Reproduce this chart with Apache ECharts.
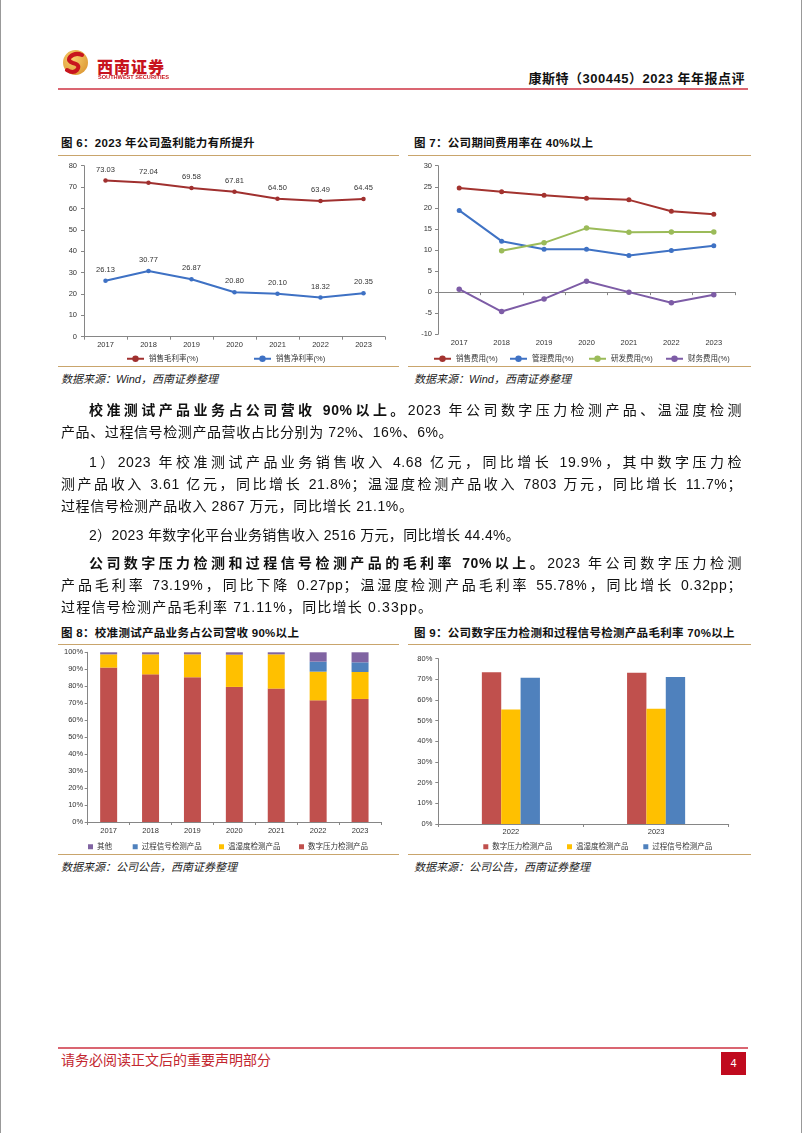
<!DOCTYPE html>
<html lang="zh-CN"><head><meta charset="utf-8">
<script src="https://cdn.jsdelivr.net/npm/echarts@6/dist/echarts.min.js"></script>
<style>
html,body{margin:0;padding:0;background:#fff;}
body{width:800px;height:1133px;position:relative;overflow:hidden;border-left:1px solid #999;border-right:1px solid #999;font-family:"Liberation Sans",Arial,"Noto Sans CJK SC",sans-serif;color:#111;}
.a{position:absolute;white-space:nowrap;}
.hr{position:absolute;height:2px;background:#DA6571;}
.tl{position:absolute;height:1px;background:#C9A56C;}
.ttl{position:absolute;font-size:11.5px;font-weight:bold;line-height:14px;white-space:nowrap;letter-spacing:0.3px;}
.src{position:absolute;font-size:11px;font-style:italic;line-height:14px;white-space:nowrap;color:#222;}
.ln{position:absolute;font-size:14px;line-height:20px;height:20px;white-space:nowrap;letter-spacing:0.6px;filter:grayscale(1);}
.full{text-align:justify;text-align-last:justify;}
.chart{position:absolute;}
</style></head>
<body>
<!-- header -->
<svg class="a" style="left:61px;top:49px" width="27" height="27" viewBox="0 0 27 27">
  <defs><radialGradient id="gg" cx="40%" cy="35%" r="70%"><stop offset="0" stop-color="#F7CF6E"/><stop offset="1" stop-color="#DE9A36"/></radialGradient></defs>
  <circle cx="13.5" cy="13.5" r="12.5" fill="url(#gg)"/>
  <path d="M20 6 Q13 3 8 8 Q5 12 11 14 Q19 16 15 21 Q11 25 5 21" fill="none" stroke="#C8151E" stroke-width="4" stroke-linecap="round"/>
</svg>
<div class="a" style="left:96px;top:56px;font-size:16px;line-height:20px;font-weight:900;color:#C8141E;letter-spacing:1px;font-family:'Noto Sans CJK SC',sans-serif;">西南证券</div>
<div class="a" style="left:97px;top:75px;font-size:10px;line-height:10px;color:#C8141E;transform:scale(0.56);transform-origin:0 0;font-weight:bold;">SOUTHWEST SECURITIES</div>
<div class="a" style="right:56px;top:71px;font-size:13px;line-height:16px;font-weight:bold;letter-spacing:0.5px;">康斯特（300445）2023 年年报点评</div>
<div class="hr" style="left:57px;top:88px;width:690px;"></div>

<!-- figure titles -->
<div class="ttl" style="left:60px;top:136px;">图 6：2023 年公司盈利能力有所提升</div>
<div class="tl" style="left:57px;top:155px;width:341px;"></div>
<div class="tl" style="left:57px;top:366px;width:341px;"></div>
<div class="src" style="left:60px;top:372px;">数据来源：Wind，西南证券整理</div>

<div class="ttl" style="left:413px;top:136px;">图 7：公司期间费用率在 40%以上</div>
<div class="tl" style="left:407px;top:155px;width:343px;"></div>
<div class="tl" style="left:407px;top:366px;width:343px;"></div>
<div class="src" style="left:413px;top:372px;">数据来源：Wind，西南证券整理</div>

<div class="ttl" style="left:60px;top:626px;">图 8：校准测试产品业务占公司营收 90%以上</div>
<div class="tl" style="left:57px;top:644px;width:341px;"></div>
<div class="tl" style="left:57px;top:854px;width:341px;"></div>
<div class="src" style="left:60px;top:860px;">数据来源：公司公告，西南证券整理</div>

<div class="ttl" style="left:413px;top:626px;">图 9：公司数字压力检测和过程信号检测产品毛利率 70%以上</div>
<div class="tl" style="left:407px;top:644px;width:343px;"></div>
<div class="tl" style="left:407px;top:854px;width:343px;"></div>
<div class="src" style="left:413px;top:860px;">数据来源：公司公告，西南证券整理</div>

<!-- body text -->
<div class="ln full" style="left:88px;top:400px;width:653px;"><b>校准测试产品业务占公司营收 90%以上。</b>2023 年公司数字压力检测产品、温湿度检测</div>
<div class="ln" style="left:60px;top:422px;">产品、过程信号检测产品营收占比分别为 72%、16%、6%。</div>
<div class="ln full" style="left:88px;top:452px;width:653px;">1）2023 年校准测试产品业务销售收入 4.68 亿元，同比增长 19.9%，其中数字压力检</div>
<div class="ln full" style="left:60px;top:474px;width:681px;">测产品收入 3.61 亿元，同比增长 21.8%；温湿度检测产品收入 7803 万元，同比增长 11.7%；</div>
<div class="ln" style="left:60px;top:496px;">过程信号检测产品收入 2867 万元，同比增长 21.1%。</div>
<div class="ln" style="left:88px;top:525px;letter-spacing:0.3px;">2）2023 年数字化平台业务销售收入 2516 万元，同比增长 44.4%。</div>
<div class="ln full" style="left:88px;top:553px;width:653px;"><b>公司数字压力检测和过程信号检测产品的毛利率 70%以上。</b>2023 年公司数字压力检测</div>
<div class="ln full" style="left:60px;top:575px;width:681px;">产品毛利率 73.19%，同比下降 0.27pp；温湿度检测产品毛利率 55.78%，同比增长 0.32pp；</div>
<div class="ln" style="left:60px;top:597px;letter-spacing:1.2px;">过程信号检测产品毛利率 71.11%，同比增长 0.33pp。</div>

<!-- charts -->
<div id="c6" class="chart" style="left:55px;top:156px;width:345px;height:216px;"></div>
<div id="c7" class="chart" style="left:405px;top:156px;width:347px;height:216px;"></div>
<div id="c8" class="chart" style="left:55px;top:645px;width:345px;height:212px;"></div>
<div id="c9" class="chart" style="left:405px;top:645px;width:347px;height:212px;"></div>

<!-- footer -->
<div class="hr" style="left:57px;top:1047px;width:690px;"></div>
<div class="a" style="left:60px;top:1050px;font-size:14px;line-height:18px;color:#C3272F;font-family:'Noto Sans CJK SC',sans-serif;">请务必阅读正文后的重要声明部分</div>
<div class="a" style="left:720px;top:1052px;width:25px;height:23px;background:#C00A1E;color:#fff;font-size:11px;line-height:23px;text-align:center;">4</div>

<script>
// ---------- data ----------
const years = ['2017','2018','2019','2020','2021','2022','2023'];
const grossMargin = [73.03, 72.04, 69.58, 67.81, 64.50, 63.49, 64.45];
const netMargin   = [26.13, 30.77, 26.87, 20.80, 20.10, 18.32, 20.35];

const sellingExp = [24.7, 23.8, 23.0, 22.3, 21.9, 19.2, 18.5];
const adminExp   = [19.4, 12.1, 10.2, 10.2, 8.7, 9.9, 11.0];
const rdExp      = [null, 9.8, 11.7, 15.2, 14.2, 14.3, 14.3];
const finExp     = [0.7, -4.6, -1.6, 2.6, 0.0, -2.5, -0.6];

const pressureShare = [91.0, 87.0, 85.3, 79.6, 78.6, 71.7, 72.5];
const humidityShare = [7.8, 11.8, 13.5, 19.0, 20.2, 16.9, 15.9];
const signalShare   = [0, 0, 0, 0, 0, 5.9, 5.7];
const otherShare    = [1.2, 1.2, 1.2, 1.4, 1.2, 5.5, 5.9];

const marginYears    = ['2022', '2023'];
const pressureMargin = [73.46, 73.19];
const humidityMargin = [55.46, 55.78];
const signalMargin   = [70.78, 71.11];

// ---------- helpers ----------
const FF = '"Liberation Sans", Arial, "Noto Sans CJK SC", sans-serif';
const AX = '#868686';
const TXT = '#333';
function legendAt(left, top, name, opt) {
  return Object.assign({
    left: left, top: top, data: [name], padding: 0,
    itemWidth: 17, itemHeight: 8,
    textStyle: { fontSize: 7.5, color: TXT, fontFamily: FF }
  }, opt || {});
}
function yAx(min, max, interval, margin, fmt) {
  return {
    type: 'value', min: min, max: max, interval: interval,
    axisLine: { show: true, lineStyle: { color: AX } },
    axisTick: { show: true, length: 3, lineStyle: { color: AX } },
    splitLine: { show: false },
    axisLabel: { fontSize: 7.5, color: TXT, margin: margin, fontFamily: FF, formatter: fmt }
  };
}
function xAx(data, margin) {
  return {
    type: 'category', data: data, boundaryGap: true,
    axisLine: { lineStyle: { color: AX } },
    axisTick: { show: true, length: 3, lineStyle: { color: AX } },
    axisLabel: { fontSize: 7.5, color: TXT, margin: margin, fontFamily: FF }
  };
}
function lineS(name, data, color, size, withLabel) {
  const s = {
    name: name, type: 'line', data: data, symbol: 'circle', symbolSize: size,
    lineStyle: { width: 2, color: color }, itemStyle: { color: color }, connectNulls: false
  };
  if (withLabel) s.label = { show: true, position: 'top', distance: 5, fontSize: 7.5, color: TXT, fontFamily: FF,
    formatter: p => Number(p.value).toFixed(2) };
  return s;
}

// ---------- chart 6 ----------
echarts.init(document.getElementById('c6'), null, { renderer: 'canvas' }).setOption({
  animation: false,
  grid: { left: 28, top: 9.7, right: 16, bottom: 35.3 },
  xAxis: xAx(years, 4),
  yAxis: yAx(0, 80, 10, 7),
  legend: [legendAt(70, 199, '销售毛利率(%)'), legendAt(197, 199, '销售净利率(%)')],
  series: [
    lineS('销售毛利率(%)', grossMargin, '#A0302F', 4.5, true),
    lineS('销售净利率(%)', netMargin, '#3E71C4', 4.5, true)
  ]
});

// ---------- chart 7 ----------
echarts.init(document.getElementById('c7')).setOption({
  animation: false,
  grid: { left: 32, top: 9.7, right: 18, bottom: 37.7 },
  xAxis: [
    { type: 'category', data: years, boundaryGap: true, position: 'bottom',
      axisLine: { show: false, onZero: false }, axisTick: { show: false },
      axisLabel: { fontSize: 7.5, color: TXT, margin: 5, fontFamily: FF } },
    { type: 'category', data: years, boundaryGap: true, position: 'bottom',
      axisLine: { show: true, onZero: true, lineStyle: { color: AX } },
      axisTick: { show: true, length: 3, lineStyle: { color: AX } },
      axisLabel: { show: false } }
  ],
  yAxis: yAx(-10, 30, 5, 6),
  legend: [
    legendAt(27, 199, '销售费用(%)'), legendAt(103, 199, '管理费用(%)'),
    legendAt(182, 199, '研发费用(%)'), legendAt(259, 199, '财务费用(%)')
  ],
  series: [
    lineS('销售费用(%)', sellingExp, '#A3332F', 5),
    lineS('管理费用(%)', adminExp, '#3F72C4', 5),
    lineS('研发费用(%)', rdExp, '#9BBB59', 5.5),
    lineS('财务费用(%)', finExp, '#7D5CA6', 5.5)
  ]
});

// ---------- chart 8 ----------
const pct = v => v + '%';
const barLegend = (left, top, name) => legendAt(left, top, name,
  { icon: 'rect', itemWidth: 5, itemHeight: 5, itemGap: 0, textStyle: { fontSize: 7.5, color: TXT, fontFamily: FF, padding: [0, 0, 0, -1] } });
function stackBar(name, data, color) {
  return { name: name, type: 'bar', stack: 'total', data: data, barWidth: 17,
    itemStyle: { color: color }, emphasis: { disabled: true } };
}
echarts.init(document.getElementById('c8')).setOption({
  animation: false,
  grid: { left: 31.7, top: 7.3, right: 20, bottom: 35 },
  xAxis: xAx(years, 5),
  yAxis: yAx(0, 100, 10, 4.5, pct),
  legend: [
    barLegend(32, 198, '其他'), barLegend(76.7, 198, '过程信号检测产品'),
    barLegend(163, 198, '温湿度检测产品'), barLegend(243, 198, '数字压力检测产品')
  ],
  series: [
    stackBar('数字压力检测产品', pressureShare, '#C0504D'),
    stackBar('温湿度检测产品', humidityShare, '#FFC000'),
    stackBar('过程信号检测产品', signalShare, '#4F81BD'),
    stackBar('其他', otherShare, '#8064A2')
  ]
});

// ---------- chart 9 ----------
function gBar(name, data, color) {
  return { name: name, type: 'bar', data: data, barGap: '0%', barCategoryGap: '60%',
    itemStyle: { color: color } };
}
echarts.init(document.getElementById('c9')).setOption({
  animation: false,
  grid: { left: 32.3, top: 13.7, right: 24.3, bottom: 33 },
  xAxis: xAx(marginYears, 4),
  yAxis: yAx(0, 80, 10, 6, pct),
  legend: [
    barLegend(77.3, 198, '数字压力检测产品'), barLegend(161, 198, '温湿度检测产品'),
    barLegend(237.3, 198, '过程信号检测产品')
  ],
  series: [
    gBar('数字压力检测产品', pressureMargin, '#C0504D'),
    gBar('温湿度检测产品', humidityMargin, '#FFC000'),
    gBar('过程信号检测产品', signalMargin, '#4F81BD')
  ]
});
</script>
</body></html>
